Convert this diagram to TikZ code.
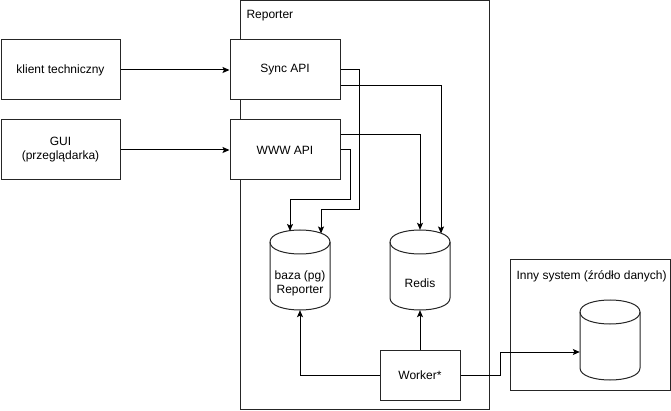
\documentclass[tikz,border=0pt]{standalone}
\usepackage{fontspec}
\setmainfont{Liberation Sans}
\usetikzlibrary{arrows.meta,calc}
\newcommand\mycyl[2]{%
  \draw[shapeline,fill=white] (#1-30,#2-28) -- (#1-30,#2+28) .. controls (#1-30,#2+44) and (#1+30,#2+44) .. (#1+30,#2+28) -- (#1+30,#2-28) .. controls (#1+30,#2-44) and (#1-30,#2-44) .. cycle;
  \draw[shapeline] (#1-30,#2-28) .. controls (#1-30,#2-12) and (#1+30,#2-12) .. (#1+30,#2-28);}
\begin{document}
\begin{tikzpicture}[x=1pt,y=-1pt,
  every node/.style={font=\fontsize{12}{14}\selectfont},
  shapeline/.style={draw=black!85,line width=1pt},
  box/.style={shapeline,fill=white,inner sep=0pt,align=center},
  cylbox/.style={inner sep=0pt,minimum width=60,minimum height=80},
  arr/.style={draw=black,line width=1pt,-{Stealth[length=7pt,width=6pt,inset=1.5pt]}},
  ln/.style={draw=black,line width=1pt}]
\useasboundingbox (0,0) rectangle (671,411);
% Reporter container
\node[shapeline,inner sep=0pt,minimum width=249,minimum height=409] (rep) at (365,205) {};
\node[anchor=west] (replbl) at (243,16) {Reporter};
% left boxes
\node[box,minimum width=119,minimum height=60] (klient) at (60.5,70) {klient techniczny};
\node[box,minimum width=119,minimum height=60] (gui) at (60.5,150) {GUI\\(przeglądarka)};
% APIs
\node[box,minimum width=110,minimum height=60] (sync) at (285,70) {Sync API};
\node[box,minimum width=110,minimum height=60] (www) at (285,150) {WWW API};
% databases
\mycyl{300}{270}
\node[cylbox] (baza) at (300,270) {};
\node[align=center] (bazalbl) at (300,283) {baza (pg)\\Reporter};
\mycyl{420}{270}
\node[cylbox] (redis) at (420,270) {};
\node (redislbl) at (420,283) {Redis};
% worker
\node[box,minimum width=80,minimum height=50] (worker) at (420,375) {Worker*};
% other system
\node[shapeline,inner sep=0pt,minimum width=160,minimum height=130] (inny) at (590,325) {};
\node[anchor=west] (innylbl) at (513,276) {Inny system (źródło danych)};
\mycyl{610}{340}
\node[cylbox] (other) at (610,340) {};
% connectors
\draw[arr] (klient) -- (sync);
\draw[arr] (gui) -- (www);
\draw[arr] ([yshift=-16pt]sync.east) -| (441,233.5);
\draw[arr] (sync.east) -- (359,70) -- (359,210) -- (321,210) -- (321,233.5);
\draw[arr] ([yshift=15pt]www.east) -| (redis.north);
\draw[arr] (www.east) -- (350,150) -- (350,200) -- (290,200) -- (290,231);
\draw[arr] (worker.north) -- (redis.south);
\draw[arr] (worker.west) -| (baza.south);
\draw[arr] (worker.east) -- (500,375) -- (500,352) -- ([yshift=-12pt]other.west);
\end{tikzpicture}
\end{document}
